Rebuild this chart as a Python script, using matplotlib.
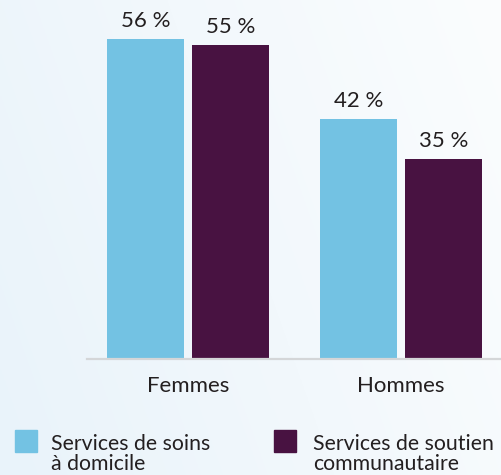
import numpy as np
import matplotlib.pyplot as plt
from matplotlib.patches import Rectangle

# share of people using each type of service, by sex (%)
groups = ['Femmes', 'Hommes']
soins_domicile = [56, 42]
soutien_communautaire = [55, 35]
series_names = ['Services de soins\nà domicile', 'Services de soutien\ncommunautaire']

blue = '#73c2e3'
maroon = '#481241'
text_col = '#231f20'
fs = 16

plt.rcParams['font.family'] = ['Lato', 'DejaVu Sans']

fig = plt.figure(figsize=(5.02, 4.75), dpi=100)
W, H = 502, 475

# soft blue-to-white background wash
bg = fig.add_axes([0, 0, 1, 1], zorder=-10)
gx = np.linspace(0, 1, 256)
gy = np.linspace(0, 1, 256)
GX, GY = np.meshgrid(gx, gy)
t = np.clip(0.75 * GX + 0.25 * (1 - GY), 0, 1)
left = np.array([233, 243, 250]) / 255
right = np.array([251, 253, 254]) / 255
img = left[None, None, :] * (1 - t[..., None]) + right[None, None, :] * t[..., None]
bg.imshow(img, aspect='auto', extent=[0, 1, 0, 1], origin='upper')
bg.axis('off')

ax = fig.add_axes([87 / W, 116 / H, 415 / W, 359 / H])
ax.patch.set_alpha(0)

x = np.arange(len(groups))
w = 77 / 213
off = 42.5 / 213
b1 = ax.bar(x - off, soins_domicile, w, color=blue)
b2 = ax.bar(x + off, soutien_communautaire, w, color=maroon)

for bars, vals in ((b1, soins_domicile), (b2, soutien_communautaire)):
    for rect, v in zip(bars, vals):
        ax.annotate(f'{v} %', (rect.get_x() + rect.get_width() / 2, v),
                    xytext=(0, 8.6), textcoords='offset points',
                    ha='center', va='baseline', fontsize=fs, color=text_col)

ax.set_xlim(-0.474, 1.474)
ax.set_ylim(0, 62.83)
ax.set_yticks([])
ax.set_xticks(x)
ax.set_xticklabels(groups, fontsize=fs, color=text_col)
ax.tick_params(axis='x', length=0, pad=12)
for s in ['top', 'right', 'left']:
    ax.spines[s].set_visible(False)
ax.spines['bottom'].set_color('#d4d6d8')
ax.spines['bottom'].set_linewidth(1.6)

# legend: coloured squares with two-line labels
for sx, tx, col, name in ((15, 51, blue, series_names[0]), (274, 313, maroon, series_names[1])):
    fig.add_artist(Rectangle((sx / W, 1 - 452 / H), 22 / W, 22 / H,
                             transform=fig.transFigure, color=col))
    fig.text(tx / W, 1 - 470 / H, name, ha='left', va='baseline',
             fontsize=15.3, color=text_col, linespacing=1.0)

fig.savefig('out.png', dpi=100)
